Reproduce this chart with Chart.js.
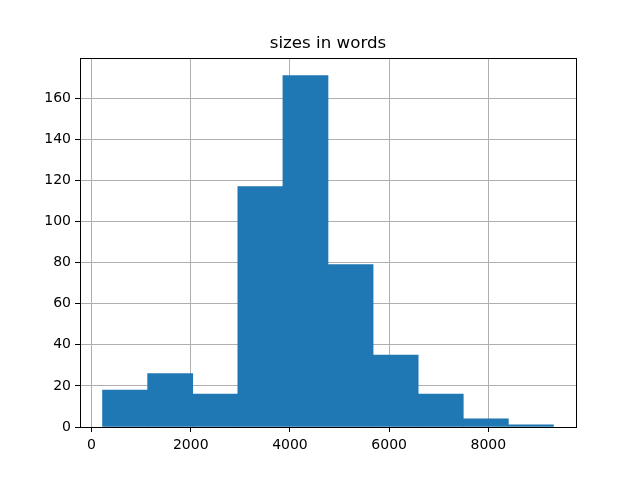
<!DOCTYPE html>
<html>
<head>
<meta charset="utf-8">
<script src="https://cdn.jsdelivr.net/npm/chart.js@4/dist/chart.umd.min.js"></script>
<style>
html,body{margin:0;padding:0;background:#fff;}
#wrap{width:640px;height:480px;}
</style>
</head>
<body>
<div id="wrap"><canvas id="c" width="640" height="480"></canvas></div>
<script>
const binEdges = [222, 1131, 2040, 2949, 3858, 4767, 5676, 6585, 7494, 8403, 9312];
const counts = [18, 26, 16, 117, 171, 79, 35, 16, 4, 1];
const xTickValues = [0, 2000, 4000, 6000, 8000];
const yTickValues = [0, 20, 40, 60, 80, 100, 120, 140, 160];
const titleText = "sizes in words";

const points = counts.map((c, i) => ({x: (binEdges[i] + binEdges[i + 1]) / 2, y: c}));
const span = binEdges[binEdges.length - 1] - binEdges[0];
const xMin = binEdges[0] - span * 0.05;
const xMax = binEdges[binEdges.length - 1] + span * 0.05;
const yMax = Math.max(...counts) * 1.05;

const frame = {
  id: 'frame',
  afterLayout(chart) {
    if (chart.titleBlock) {
      chart.titleBlock.left = chart.chartArea.left;
      chart.titleBlock.right = chart.chartArea.right;
    }
  },
  afterDraw(chart) {
    const a = chart.chartArea, ctx = chart.ctx;
    ctx.save();
    ctx.strokeStyle = '#000';
    ctx.lineWidth = 1;
    ctx.strokeRect(Math.round(a.left) + 0.5, Math.round(a.top) + 0.5, Math.round(a.right - a.left), Math.round(a.bottom - a.top));
    ctx.restore();
  }
};

const tickFont = {family: 'DejaVu Sans', size: 14};
new Chart(document.getElementById('c'), {
  type: 'bar',
  data: {
    datasets: [{
      data: points,
      backgroundColor: '#1f77b4',
      borderWidth: 0,
      barPercentage: 1,
      categoryPercentage: 1
    }]
  },
  options: {
    responsive: false,
    animation: false,
    layout: {padding: {left: 0, right: 64, top: 0, bottom: 0}},
    plugins: {
      legend: {display: false},
      tooltip: {enabled: false},
      title: {
        display: true,
        text: titleText,
        color: '#000',
        font: {family: 'DejaVu Sans', size: 16.67, weight: 'normal'},
        padding: {top: 34, bottom: 4}
      }
    },
    scales: {
      x: {
        type: 'linear',
        min: xMin,
        max: xMax,
        z: 1,
        offset: false,
        afterFit(s) { s.height = 53; },
        afterBuildTicks(s) { s.ticks = xTickValues.map(v => ({value: v})); },
        ticks: {color: '#000', font: tickFont, padding: 5, maxRotation: 0, autoSkip: false,
          callback: v => String(v)},
        grid: {color: '#b0b0b0', lineWidth: 1, tickColor: '#000', tickLength: 5, offset: false},
        border: {color: '#000', width: 1}
      },
      y: {
        min: 0,
        max: yMax,
        z: 1,
        afterFit(s) { s.width = 80; },
        afterBuildTicks(s) { s.ticks = yTickValues.map(v => ({value: v})); },
        ticks: {color: '#000', font: tickFont, padding: 4, autoSkip: false, callback: v => String(v)},
        grid: {color: '#b0b0b0', lineWidth: 1, tickColor: '#000', tickLength: 5},
        border: {color: '#000', width: 1}
      }
    }
  },
  plugins: [frame]
});
</script>
</body>
</html>
